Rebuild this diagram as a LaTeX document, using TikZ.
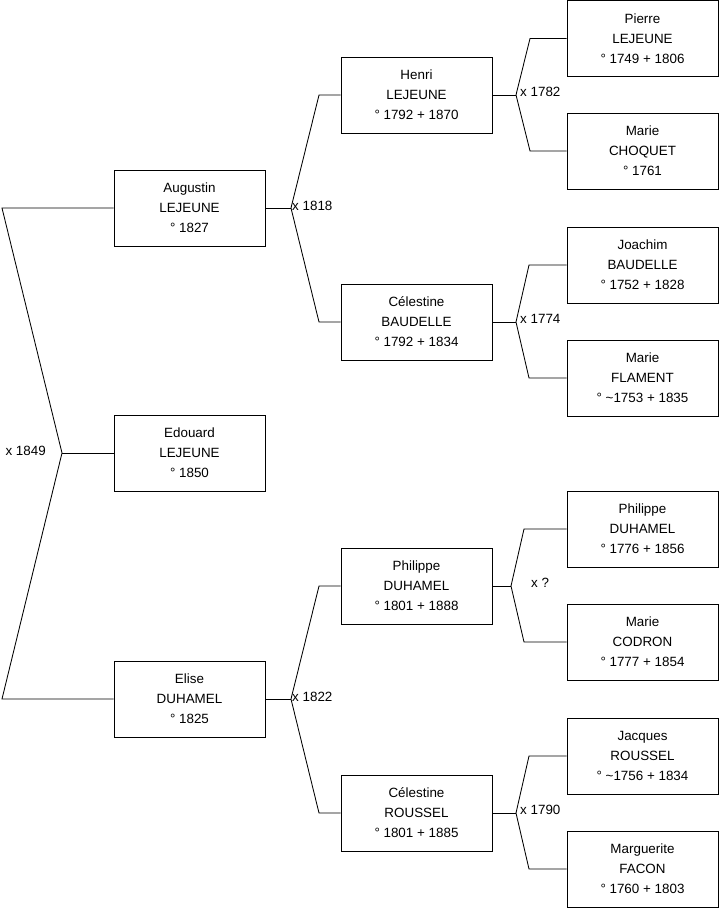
\documentclass[tikz,border=0pt]{standalone}
\usepackage{fontspec}
\setmainfont{Liberation Sans}
\usetikzlibrary{positioning, calc}

\begin{document}
\begin{tikzpicture}[
  x=1pt, y=-1pt,
  person/.style={draw, line width=0.9pt, minimum width=151pt, minimum height=76pt,
    inner sep=0pt, align=center, font=\fontsize{13.4}{20}\selectfont},
  link/.style={draw, line width=0.85pt},
  wed/.style={inner sep=0pt, font=\fontsize{13.4}{15}\selectfont}
  ]
  \useasboundingbox (0,0) rectangle (719,908);
  % Generation 1 and 2
  \node[person] (edouard)  at (189.5,453) {Edouard\\LEJEUNE\\° 1850};
  \node[person] (augustin) at (189.5,208) {Augustin\\LEJEUNE\\° 1827};
  \node[person] (elise)    at (189.5,699) {Elise\\DUHAMEL\\° 1825};
  % Generation 3
  \node[person] (henri)   at (416.5,95)  {Henri\\LEJEUNE\\° 1792 + 1870};
  \node[person] (celbau)  at (416.5,322) {Célestine\\BAUDELLE\\° 1792 + 1834};
  \node[person] (phiduh)  at (416.5,586) {Philippe\\DUHAMEL\\° 1801 + 1888};
  \node[person] (celrou)  at (416.5,813) {Célestine\\ROUSSEL\\° 1801 + 1885};
  % Generation 4
  \node[person] (pierre)     at (642.5,38.5) {Pierre\\LEJEUNE\\° 1749 + 1806};
  \node[person] (mariecho)   at (642.5,151)  {Marie\\CHOQUET\\° 1761};
  \node[person] (joachim)    at (642.5,265)  {Joachim\\BAUDELLE\\° 1752 + 1828};
  \node[person] (mariefla)   at (642.5,378)  {Marie\\FLAMENT\\° \textasciitilde1753 + 1835};
  \node[person] (philippe)   at (642.5,529)  {Philippe\\DUHAMEL\\° 1776 + 1856};
  \node[person] (mariecod)   at (642.5,642)  {Marie\\CODRON\\° 1777 + 1854};
  \node[person] (jacques)    at (642.5,756)  {Jacques\\ROUSSEL\\° \textasciitilde1756 + 1834};
  \node[person] (marguerite) at (642.5,869)  {Marguerite\\FACON\\° 1760 + 1803};

  % x 1849
  \coordinate (m0)  at (62,453);
  \coordinate (m0t) at (2,208);
  \coordinate (m0b) at (2,699);
  \draw[link] (augustin.west) -- (m0t) -- (m0) -- (m0b) -- (elise.west);
  \draw[link] (m0) -- (edouard.west);
  \node[wed, anchor=east] (w0) at (46,451) {x 1849};

  % x 1818
  \coordinate (m1)  at (291,208);
  \coordinate (m1t) at (319,95);
  \coordinate (m1b) at (319,322);
  \draw[link] (augustin.east) -- (m1);
  \draw[link] (henri.west) -- (m1t) -- (m1) -- (m1b) -- (celbau.west);
  \node[wed, anchor=west] (w1) at (292,206) {x 1818};

  % x 1822
  \coordinate (m2)  at (291,699);
  \coordinate (m2t) at (319,586);
  \coordinate (m2b) at (319,813);
  \draw[link] (elise.east) -- (m2);
  \draw[link] (phiduh.west) -- (m2t) -- (m2) -- (m2b) -- (celrou.west);
  \node[wed, anchor=west] (w2) at (292,697) {x 1822};

  % x 1782
  \coordinate (m3)  at (516,95);
  \coordinate (m3t) at (530,38.5);
  \coordinate (m3b) at (530,151);
  \draw[link] (henri.east) -- (m3);
  \draw[link] (pierre.west) -- (m3t) -- (m3) -- (m3b) -- (mariecho.west);
  \node[wed, anchor=west] (w3) at (520,92) {x 1782};

  % x 1774
  \coordinate (m4)  at (516,322);
  \coordinate (m4t) at (529,265);
  \coordinate (m4b) at (529,378);
  \draw[link] (celbau.east) -- (m4);
  \draw[link] (joachim.west) -- (m4t) -- (m4) -- (m4b) -- (mariefla.west);
  \node[wed, anchor=west] (w4) at (520,319) {x 1774};

  % x ?
  \coordinate (m5)  at (511,586);
  \coordinate (m5t) at (524,529);
  \coordinate (m5b) at (524,642);
  \draw[link] (phiduh.east) -- (m5);
  \draw[link] (philippe.west) -- (m5t) -- (m5) -- (m5b) -- (mariecod.west);
  \node[wed, anchor=west] (w5) at (531,583) {x ?};

  % x 1790
  \coordinate (m6)  at (516,813);
  \coordinate (m6t) at (529,756);
  \coordinate (m6b) at (529,869);
  \draw[link] (celrou.east) -- (m6);
  \draw[link] (jacques.west) -- (m6t) -- (m6) -- (m6b) -- (marguerite.west);
  \node[wed, anchor=west] (w6) at (520,810) {x 1790};
\end{tikzpicture}
\end{document}
